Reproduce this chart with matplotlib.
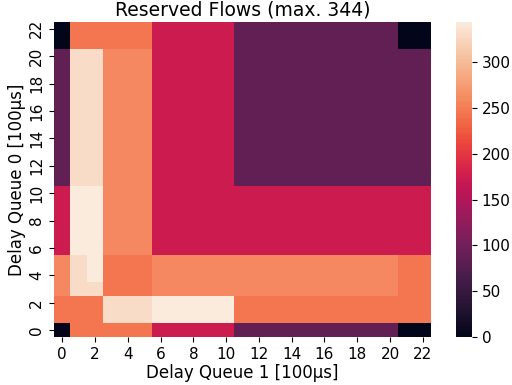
import numpy as np
import matplotlib
matplotlib.use("Agg")
import matplotlib.pyplot as plt
import seaborn as sns

# reserved flow counts per (queue 0 delay, queue 1 delay), rows from delay 0 upward
row_edge = [0, 245, 245, 245, 245, 245, 172, 172, 172, 172, 172,
            86, 86, 86, 86, 86, 86, 86, 86, 86, 86, 0, 0]
row_low = [245, 245, 245, 330, 330, 330, 344, 344, 344, 344, 344,
           245, 245, 245, 245, 245, 245, 245, 245, 245, 245, 245, 245]
row_3 = [258, 330, 330, 245, 245, 245, 258, 258, 258, 258, 258, 258,
         258, 258, 258, 258, 258, 258, 258, 258, 258, 245, 245]
row_4 = [258, 330, 344, 245, 245, 245, 258, 258, 258, 258, 258, 258,
         258, 258, 258, 258, 258, 258, 258, 258, 258, 245, 245]
row_mid = [172, 344, 344, 258, 258, 258, 172, 172, 172, 172, 172, 172,
           172, 172, 172, 172, 172, 172, 172, 172, 172, 172, 172]
row_high = [86, 330, 330, 258, 258, 258, 172, 172, 172, 172, 172,
            86, 86, 86, 86, 86, 86, 86, 86, 86, 86, 86, 86]

rows = ([row_edge, row_low, row_low, row_3, row_4, row_4]
        + [row_mid] * 5 + [row_high] * 10 + [row_edge, row_edge])
flows = np.array(rows)

fig = plt.figure(figsize=(5.12, 3.85), dpi=100)
ax = fig.add_axes([54 / 512, 48 / 385, 377 / 512, 315 / 385])
cax = fig.add_axes([456 / 512, 48 / 385, 16 / 512, 315 / 385])

sns.heatmap(flows, ax=ax, cbar_ax=cax, cmap="rocket",
            xticklabels=2, yticklabels=2)
ax.invert_yaxis()

ax.set_title(f"Reserved Flows (max. {flows.max()})", fontsize=13.5, pad=5)
ax.set_xlabel("Delay Queue 1 [100µs]", fontsize=12, labelpad=2)
ax.set_ylabel("Delay Queue 0 [100µs]", fontsize=12, labelpad=2)
ax.tick_params(labelsize=11)
cax.tick_params(labelsize=11)

fig.savefig("out.png", dpi=100)
